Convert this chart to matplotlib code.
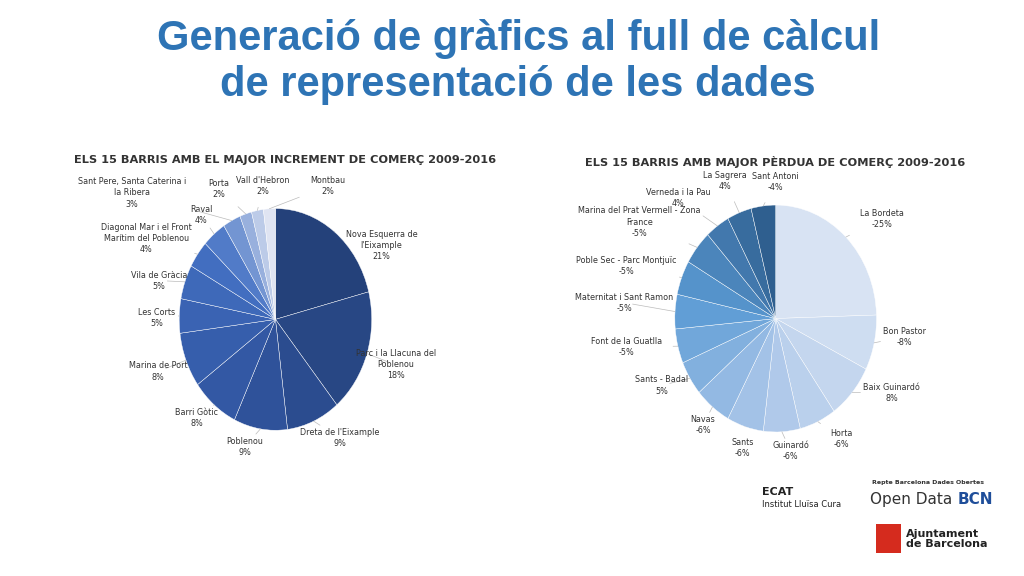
import matplotlib.pyplot as plt
import numpy as np
from matplotlib.colors import LinearSegmentedColormap

# Left chart data
inc_labels = ["Nova Esquerra de\nl'Eixample", "Parc i la Llacuna del\nPoblenou", "Dreta de l'Eixample",
              "Poblenou", "Barri Gòtic", "Marina de Port", "Les Corts", "Vila de Gràcia",
              "Diagonal Mar i el Front\nMarítim del Poblenou", "Raval", "Sant Pere, Santa Caterina i\nla Ribera",
              "Porta", "Vall d'Hebron", "Montbau"]
inc_values = [21, 18, 9, 9, 8, 8, 5, 5, 4, 4, 3, 2, 2, 2]

# Right chart data
loss_labels = ["La Bordeta", "Bon Pastor", "Baix Guinardó", "Horta", "Guinardó", "Sants", "Navas",
               "Sants - Badal", "Font de la Guatlla", "Maternitat i Sant Ramon", "Poble Sec - Parc Montjuïc",
               "Marina del Prat Vermell - Zona\nFrance", "Verneda i la Pau", "La Sagrera", "Sant Antoni"]
loss_values = [25, 8, 8, 6, 6, 6, 6, 5, 5, 5, 5, 5, 4, 4, 4]
loss_text = ["-25%", "-8%", "8%", "-6%", "-6%", "-6%", "-6%", "5%", "-5%", "-5%", "-5%", "-5%", "4%", "4%", "-4%"]

# label placement (pie-relative coordinates)
inc_pos = [(1.10, 0.67), (1.25, -0.41), (0.67, -1.07), (-0.32, -1.15), (-0.82, -0.89),
           (-1.22, -0.47), (-1.23, 0.01), (-1.21, 0.35), (-1.34, 0.73), (-0.77, 0.94),
           (-1.49, 1.14), (-0.59, 1.18), (-0.13, 1.2), (0.54, 1.2)]
loss_pos = [(1.05, 0.88), (1.28, -0.16), (1.15, -0.66), (0.65, -1.06), (0.15, -1.17),
            (-0.33, -1.14), (-0.72, -0.94), (-1.13, -0.59), (-1.48, -0.25), (-1.5, 0.14),
            (-1.48, 0.46), (-1.35, 0.85), (-0.97, 1.06), (-0.5, 1.21), (0.0, 1.2)]

fig = plt.figure(figsize=(10.24, 5.76), dpi=100)
fig.patch.set_facecolor('white')

fig.text(0.506, 0.932, "Generació de gràfics al full de càlcul", ha='center', va='center',
         fontsize=30, fontweight='bold', color='#2e74b5', family='Liberation Sans')
fig.text(0.506, 0.852, "de representació de les dades", ha='center', va='center',
         fontsize=30, fontweight='bold', color='#2e74b5', family='Liberation Sans')


def draw_pie(rect, values, labels, positions, colors, title, title_xy):
    ax = fig.add_axes(rect)
    wedges, _ = ax.pie(values, colors=colors, startangle=90, counterclock=False, radius=1,
                       wedgeprops=dict(edgecolor='white', linewidth=0.3))
    ax.set_aspect('auto')
    ax.set_xlim(-1, 1)
    ax.set_ylim(-1, 1)
    for w, lab, (lx, ly) in zip(wedges, labels, positions):
        ang = np.deg2rad((w.theta1 + w.theta2) / 2)
        ex, ey = np.cos(ang), np.sin(ang)
        ax.annotate(lab, xy=(ex, ey), xytext=(lx, ly), ha='center', va='center',
                    fontsize=5.8, color='#333333', annotation_clip=False, linespacing=1.3,
                    arrowprops=dict(arrowstyle='-', color='#bbbbbb', lw=0.5, shrinkA=6, shrinkB=0))
    fig.text(title_xy[0], title_xy[1], title, ha='center', va='center', fontsize=8.2,
             fontweight='bold', color='#333333')


inc_colors = LinearSegmentedColormap.from_list(
    'inc', ['#24417a', '#345aa8', '#4472c4', '#dfe4f2'])(np.linspace(0, 1, len(inc_values)))
draw_pie([0.175, 0.253, 0.188, 0.385], inc_values,
         [f"{l}\n{v}%" for l, v in zip(inc_labels, inc_values)], inc_pos, inc_colors,
         "ELS 15 BARRIS AMB EL MAJOR INCREMENT DE COMERÇ 2009-2016", (0.278, 0.722))

loss_colors = LinearSegmentedColormap.from_list(
    'loss', ['#d8e3f3', '#a9c5e8', '#5b9bd5', '#2f5f8f'])(np.linspace(0, 1, len(loss_values)))
draw_pie([0.659, 0.25, 0.197, 0.394], loss_values,
         [f"{l}\n{t}" for l, t in zip(loss_labels, loss_text)], loss_pos, loss_colors,
         "ELS 15 BARRIS AMB MAJOR PÈRDUA DE COMERÇ 2009-2016", (0.757, 0.718))

# Logos as text
fig.text(0.744, 0.14, "ECAT", fontsize=8, fontweight='bold', color='#222222')
fig.text(0.744, 0.12, "Institut Lluïsa Cura", fontsize=6, color='#222222')
fig.text(0.852, 0.16, "Repte Barcelona Dades Obertes", fontsize=4.5, fontweight='bold', color='#333333')
fig.text(0.85, 0.125, "Open Data", fontsize=11, color='#333333')
fig.text(0.935, 0.125, "BCN", fontsize=11, fontweight='bold', color='#1f4e9a')
fig.text(0.885, 0.065, "Ajuntament\nde Barcelona", fontsize=8, fontweight='bold', color='#222222',
         va='center', linespacing=1.0)
fig.patches.append(plt.Rectangle((0.855, 0.04), 0.025, 0.05, transform=fig.transFigure,
                                 facecolor='#d52b1e', edgecolor='none'))

fig.savefig('out.png', dpi=100, facecolor='white')
